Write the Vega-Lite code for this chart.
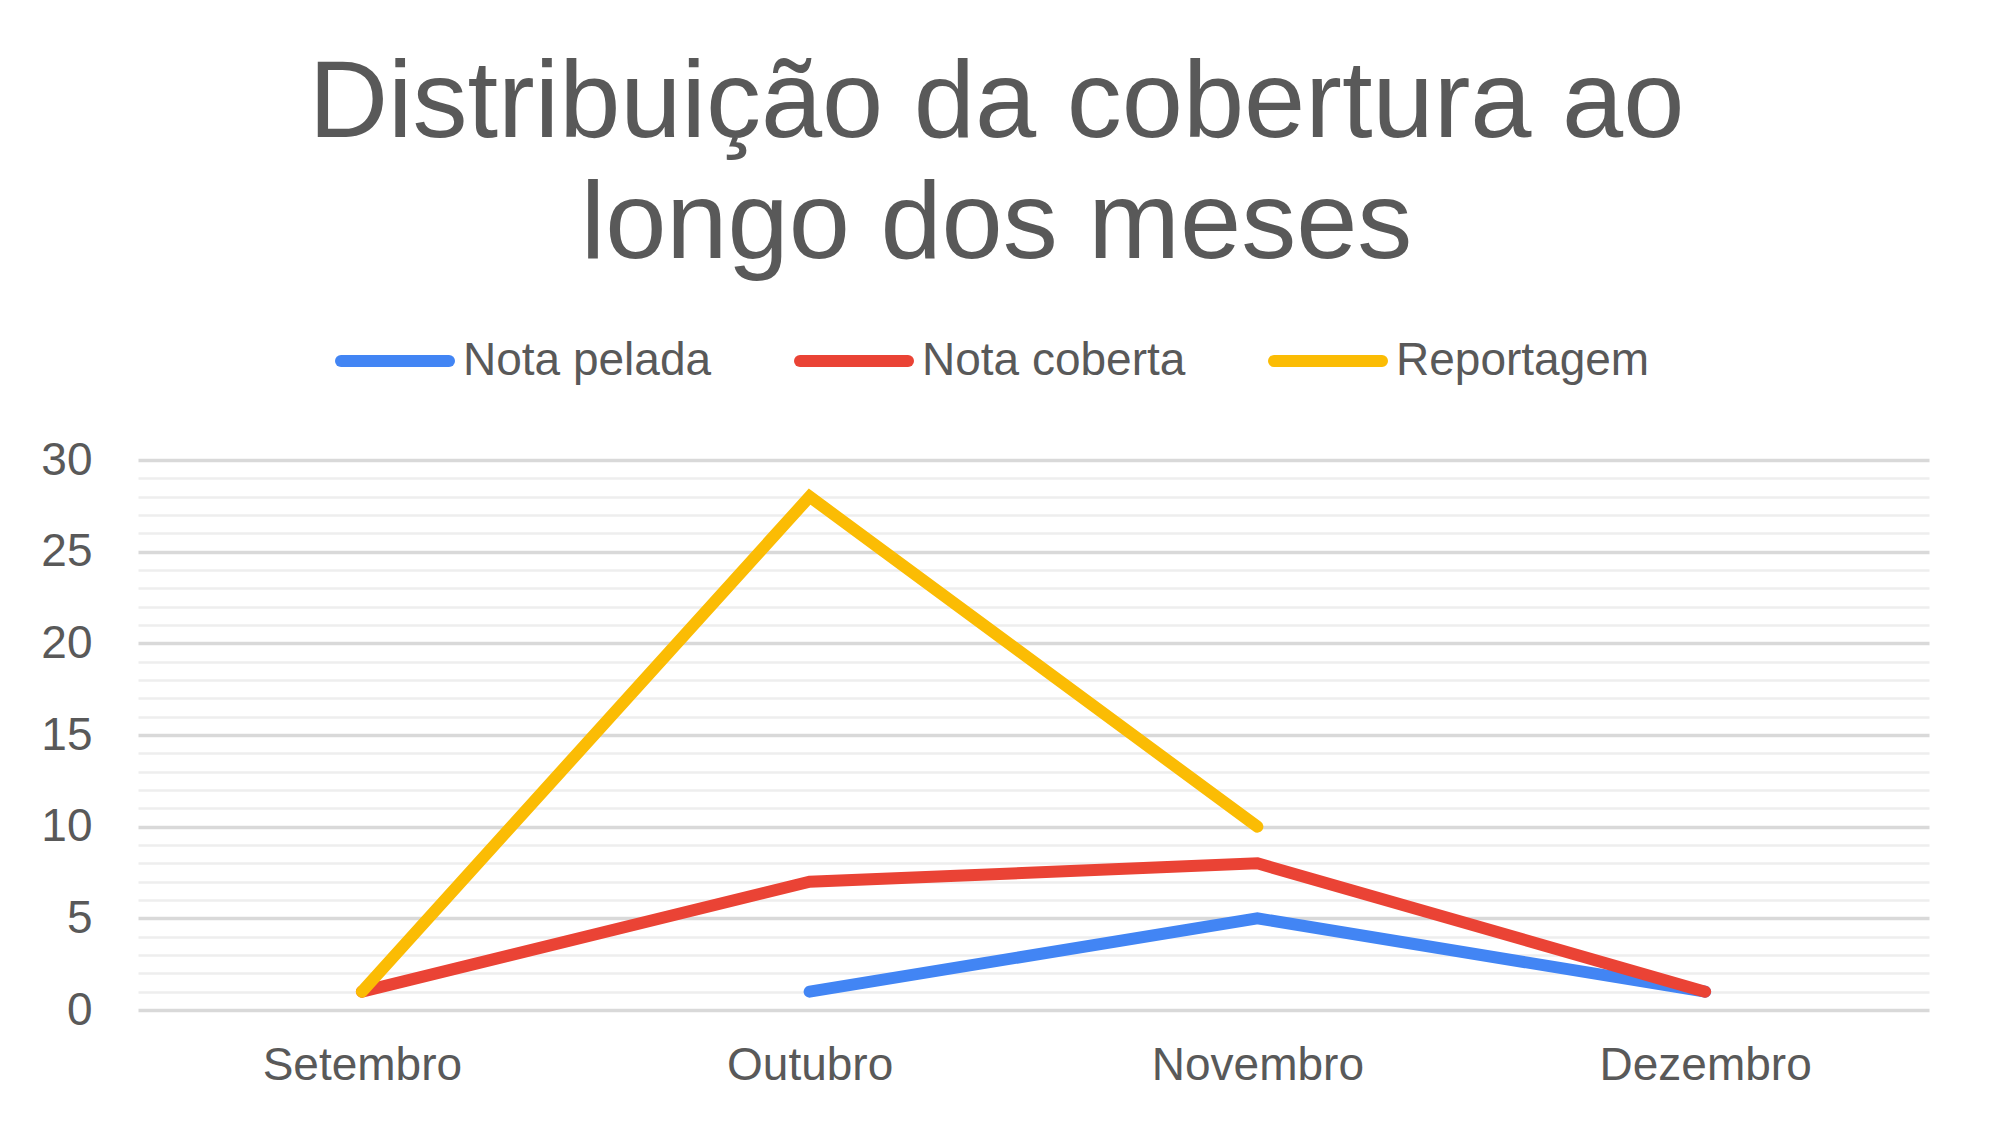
{
  "$schema": "https://vega.github.io/schema/vega-lite/v6.json",
  "autosize": "none",
  "width": 1791,
  "height": 550,
  "padding": {"left": 138, "top": 460, "right": 64, "bottom": 115},
  "background": "white",
  "title": {
    "text": ["Distribuição da cobertura ao", "longo dos meses"],
    "anchor": "middle",
    "frame": "group",
    "dx": -37,
    "font": "Liberation Sans",
    "fontSize": 110,
    "fontWeight": "normal",
    "color": "#595959",
    "lineHeight": 121,
    "offset": 20
  },
  "data": {
    "values": [
      {"mes": "Outubro", "serie": "Nota pelada", "valor": 1},
      {"mes": "Novembro", "serie": "Nota pelada", "valor": 5},
      {"mes": "Dezembro", "serie": "Nota pelada", "valor": 1},
      {"mes": "Setembro", "serie": "Nota coberta", "valor": 1},
      {"mes": "Outubro", "serie": "Nota coberta", "valor": 7},
      {"mes": "Novembro", "serie": "Nota coberta", "valor": 8},
      {"mes": "Dezembro", "serie": "Nota coberta", "valor": 1},
      {"mes": "Setembro", "serie": "Reportagem", "valor": 1},
      {"mes": "Outubro", "serie": "Reportagem", "valor": 28},
      {"mes": "Novembro", "serie": "Reportagem", "valor": 10}
    ]
  },
  "mark": {"type": "line", "strokeWidth": 12, "strokeCap": "round", "strokeJoin": "miter"},
  "encoding": {
    "x": {
      "field": "mes",
      "type": "ordinal",
      "sort": ["Setembro", "Outubro", "Novembro", "Dezembro"],
      "scale": {"type": "point", "padding": 0.5},
      "axis": {
        "title": null,
        "labelAngle": 0,
        "labelFont": "Liberation Sans",
        "labelFontSize": 46,
        "labelColor": "#595959",
        "labelPadding": 33,
        "labelLimit": 0,
        "domain": false,
        "ticks": false,
        "tickSize": 0,
        "grid": false
      }
    },
    "y": {
      "field": "valor",
      "type": "quantitative",
      "scale": {"domain": [0, 30], "nice": false},
      "axis": {
        "title": null,
        "values": [0,1,2,3,4,5,6,7,8,9,10,11,12,13,14,15,16,17,18,19,20,21,22,23,24,25,26,27,28,29,30],
        "labelExpr": "datum.value % 5 === 0 ? datum.label : ''",
        "labelOverlap": false,
        "labelFont": "Liberation Sans",
        "labelFontSize": 46,
        "labelColor": "#595959",
        "labelPadding": 46,
        "labelLimit": 0,
        "domain": false,
        "ticks": false,
        "tickSize": 0,
        "grid": true,
        "gridColor": {"condition": {"test": "datum.value % 5 === 0", "value": "#d9d9d9"}, "value": "#eeeeee"},
        "gridWidth": {"condition": {"test": "datum.value % 5 === 0", "value": 3.5}, "value": 2.5}
      }
    },
    "color": {
      "field": "serie",
      "type": "nominal",
      "scale": {
        "domain": ["Nota pelada", "Nota coberta", "Reportagem"],
        "range": ["#4285F4", "#EA4335", "#FBBC04"]
      },
      "legend": {
        "title": null,
        "orient": "none",
        "direction": "horizontal",
        "legendX": 197,
        "legendY": -159,
        "symbolType": "stroke",
        "symbolSize": 11664,
        "symbolStrokeWidth": 12,
        "labelFont": "Liberation Sans",
        "labelFontSize": 46,
        "labelColor": "#595959",
        "labelOffset": 8,
        "labelLimit": 0,
        "columnPadding": 64,
        "encode": {"symbols": {"update": {"strokeCap": {"value": "round"}}}}
      }
    }
  },
  "config": {
    "view": {"stroke": null}
  }
}
